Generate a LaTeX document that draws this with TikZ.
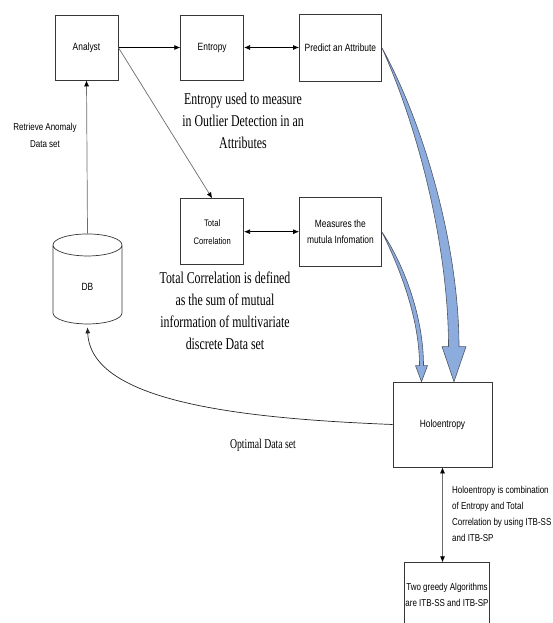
\documentclass[tikz,border=0pt]{standalone}
\usepackage{fontspec}
\setmainfont{Liberation Serif}[FakeStretch=0.72]
\setsansfont{Liberation Sans}[FakeStretch=0.8]
\usetikzlibrary{shapes.geometric, arrows.meta, positioning, calc}

\definecolor{flowblue}{RGB}{140,172,222}
\definecolor{flowedge}{RGB}{80,85,100}
\definecolor{boxline}{RGB}{55,55,55}

\begin{document}
\begin{tikzpicture}[
      x=1pt, y=-1pt,
      node distance=62pt and 55pt,
      box/.style={rectangle, draw=boxline, line width=0.7pt, minimum width=63pt, minimum height=66pt, align=center, inner sep=1pt, font=\sffamily\fontsize{10.5}{16}\selectfont},
      widebox/.style={box, minimum width=82pt},
      note/.style={align=center, inner sep=0pt, font=\rmfamily\fontsize{16.5}{22}\selectfont},
      small/.style={inner sep=0pt, font=\sffamily\fontsize{10}{16}\selectfont},
      arrow/.style={-{Latex[length=6pt,width=5pt]}, line width=0.7pt, black},
      both/.style={{Latex[length=6pt,width=5pt]}-{Latex[length=6pt,width=5pt]}, line width=0.7pt, black},
      grayline/.style={line width=0.7pt, gray!85!black, -{Latex[length=6pt,width=5pt,color=black]}},
      flow/.style={fill=flowblue, draw=flowedge, line width=0.6pt, line join=round}
    ]
    \useasboundingbox (0,0) rectangle (552,623);

    % top row
    \node[box, minimum height=65pt] (analyst) at (86.5,47.5) {Analyst};
    \node[box, minimum height=65pt, right=62pt of analyst] (entropy) {Entropy};
    \node[widebox, minimum height=67pt, right=55pt of entropy] (predict) {Predict an Attribute};

    % middle row
    \node[box, below=118pt of entropy, font=\sffamily\fontsize{9.5}{18}\selectfont] (totcorr) {Total\\Correlation};
    \node[widebox, minimum height=69pt, right=55pt of totcorr] (measures) {Measures the\\mutula Infomation};

    \node[cylinder, shape border rotate=90, draw=boxline, line width=0.7pt, aspect=1.2, minimum height=90pt, minimum width=69pt, font=\sffamily\fontsize{10.5}{13}\selectfont] (db) at (87.5,287) {DB};

    % bottom
    \node[box, minimum width=99pt, minimum height=85pt] (holo) at (442.5,424.5) {Holoentropy};
    \node[widebox, minimum height=65pt, below=95pt of holo, xshift=4.5pt, font=\sffamily\fontsize{10}{16}\selectfont] (greedy) {Two greedy Algorithms\\are ITB-SS and ITB-SP};

    % notes
    \node[note] (entnote) at (243,121) {Entropy used to measure\\in Outlier Detection in an\\Attributes};
    \node[note] (tcnote) at (225,311) {Total Correlation is defined\\as the sum of mutual\\information of multivariate\\discrete Data set};
    \node[small, align=center, font=\sffamily\fontsize{10}{17}\selectfont] (retrieve) at (45,135) {Retrieve Anomaly\\Data set};
    \node[note, font=\rmfamily\fontsize{13.5}{18}\selectfont] (optimal) at (263,445) {Optimal Data set};
    \node[small, align=left, anchor=west] (holonote) at (452,514) {Holoentropy is combination\\of Entropy and Total\\Correlation by using ITB-SS\\and ITB-SP};

    % connectors
    \draw[arrow] (analyst) -- (entropy);
    \draw[both] (entropy) -- (predict);
    \draw[both] (totcorr) -- (measures);
    \draw[grayline] (analyst.east) -- (totcorr.north);
    \draw[grayline] (db.north) -- (analyst.south);
    \draw[line width=0.7pt, gray!85!black, {Latex[length=6pt,width=5pt,color=black]}-{Latex[length=6pt,width=5pt,color=black]}] (holo.south) -- (holo.south |- greedy.north);
    \draw[arrow, black!85] (holo.west) .. controls +(-150,-6) and +(3,75) .. ($(db.south)+(0,3)$);

    % blue arrows into holoentropy
    \coordinate (bigtip) at ($(holo.north)+(11.5,0)$);
    \coordinate (thintip) at ($(holo.north)+(-21,0)$);
    \path[flow] (predict.east) .. controls +(38,84) and +(0,-97) .. ($(bigtip)+(-5.5,-35)$)
      -- ($(bigtip)+(-12,-35)$) -- (bigtip) -- ($(bigtip)+(12,-35)$) -- ($(bigtip)+(5,-35)$)
      .. controls +(0,-97) and +(44,80) .. (predict.east) -- cycle;
    \path[flow] (measures.east) .. controls +(19,38) and +(0,-46) .. ($(thintip)+(-2,-16)$)
      -- ($(thintip)+(-6,-16)$) -- (thintip) -- ($(thintip)+(6,-16)$) -- ($(thintip)+(2,-16)$)
      .. controls +(0,-48) and +(23,34) .. (measures.east) -- cycle;
  \end{tikzpicture}
\end{document}
